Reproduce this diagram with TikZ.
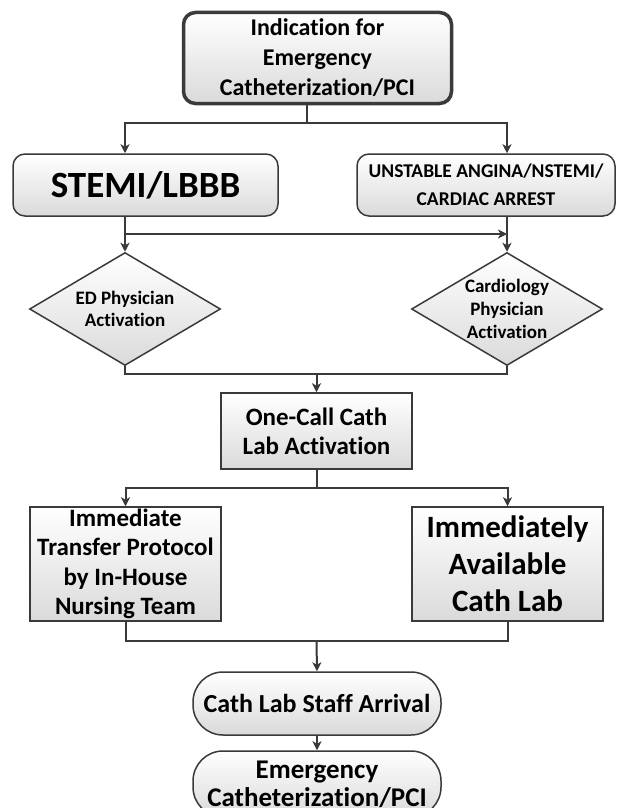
\documentclass[tikz,border=0pt]{standalone}
\usepackage{fontspec}
\setmainfont[Ligatures=NoCommon]{Carlito}
\usetikzlibrary{arrows.meta,shapes.geometric}

\definecolor{edge}{HTML}{3A3A3A}
\definecolor{shadebot}{HTML}{DADADA}

\begin{document}
\begin{tikzpicture}[
      x=1pt, y=-1pt,
      fs/.style 2 args={font=\fontsize{#1}{#2}\selectfont\bfseries},
      base/.style={draw=edge, line width=1.5pt, top color=white, bottom color=shadebot, align=center, inner sep=1pt},
      roundbox/.style={base, rounded corners=12pt},
      sqbox/.style={base, rectangle},
      decision/.style={base, diamond, aspect=1.7, minimum width=191pt, minimum height=113pt},
      pill/.style={base, rounded corners=30pt, minimum width=248pt, minimum height=63pt},
      line/.style={draw=edge, line width=2pt},
      arr/.style={line, -{Stealth[length=9pt, width=9pt, inset=2.5pt]}}
    ]
      \fill[white] (0,0) rectangle (616,808);
      \useasboundingbox (0,0) rectangle (616,808);

      \node[roundbox, line width=3.5pt, minimum width=268pt, minimum height=91pt, fs={24}{30}] (indic) at (317.5,58) {Indication for\\Emergency\\Catheterization/PCI};

      \node[roundbox, minimum width=265pt, minimum height=62pt, fs={37}{40}] (stemi) at (145.5,185) {STEMI/LBBB};
      \node[roundbox, minimum width=258pt, minimum height=62pt, fs={19.5}{28}] (unst) at (486,185) {UNSTABLE ANGINA/NSTEMI/\\CARDIAC ARREST};

      \node[decision, fs={19}{22}] (edphys) at (125,309) {ED Physician\\Activation};
      \node[decision, fs={19}{23}] (cardphys) at (507,309) {Cardiology\\Physician\\Activation};

      \node[sqbox, minimum width=191pt, minimum height=76pt, fs={25}{29}] (onecall) at (316.5,431) {One-Call Cath\\Lab Activation};

      \node[sqbox, minimum width=191pt, minimum height=114pt, fs={25}{29.5}] (transfer) at (125.5,564) {Immediate\\Transfer Protocol\\by In-House\\Nursing Team};
      \node[sqbox, minimum width=191pt, minimum height=114pt, fs={31}{37}] (avail) at (507.5,564) {Immediately\\Available\\Cath Lab};

      \node[pill, fs={26}{30}] (staff) at (317,703.5) {Cath Lab Staff Arrival};
      \node[pill, minimum height=66pt, fs={27}{28}] (emerg) at (317,784) {Emergency\\Catheterization/PCI};

      % split below the indication box
      \coordinate (j1) at (307,123);
      \draw[line] (indic.south -| j1) -- (j1);
      \draw[arr] (j1) -| (stemi.north -| edphys.north);
      \draw[arr] (j1) -| (unst.north -| cardphys.north);

      % who activates
      \coordinate (j2) at (125,234);
      \draw[arr] (stemi.south -| edphys.north) -- (edphys.north);
      \draw[arr] (unst.south -| cardphys.north) -- (cardphys.north);
      \draw[arr] (j2) -- (j2 -| cardphys.north);

      % merge into one call
      \coordinate (j3) at (316.5,374);
      \draw[line] (edphys.south) |- (j3 -| cardphys.south) -- (cardphys.south);
      \draw[arr] (j3) -- (onecall.north);

      \coordinate (j4) at (316.5,488);
      \draw[line] (onecall.south) -- (j4);
      \draw[arr] (j4) -| (transfer.north);
      \draw[arr] (j4) -| (avail.north);

      % merge into staff arrival
      \coordinate (j5) at (316.5,641);
      \draw[line] (transfer.south) |- (avail.south |- j5) -- (avail.south);
      \draw[arr] (j5) -- (staff.north);
      \draw[arr] (staff.south) -- (emerg.north);
    \end{tikzpicture}
\end{document}
